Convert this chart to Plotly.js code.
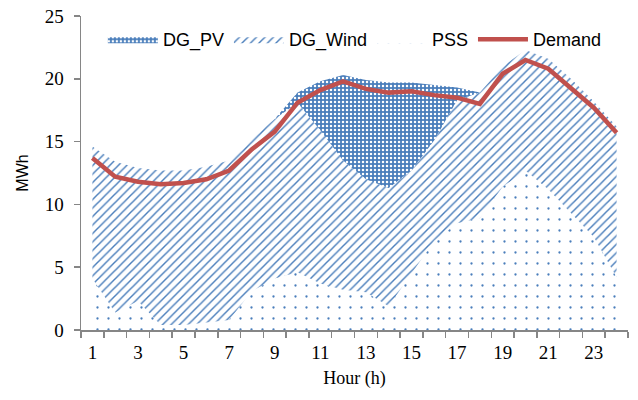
<!DOCTYPE html>
<html>
<head>
<meta charset="utf-8">
<script src="https://cdn.plot.ly/plotly-3.0.1.min.js"></script>
<style>html,body{margin:0;padding:0;background:#fff;}#chart{width:638px;height:400px;}</style>
</head>
<body>
<div id="chart"></div>
<script>
const hours = [1,2,3,4,5,6,7,8,9,10,11,12,13,14,15,16,17,18,19,20,21,22,23,24];
const pss = [4.1,1.4,2.3,0.4,0.4,0.6,0.8,3.1,4.1,4.6,3.7,3.2,3.0,1.9,4.5,7.1,8.5,8.9,11.4,12.7,11.2,9.3,7.4,4.2];
const dgWind = [10.5,12.0,10.6,12.3,12.3,12.4,12.7,12.2,12.7,13.5,12.2,10.3,9.0,9.4,8.2,8.0,9.8,10.0,9.6,9.6,10.4,10.7,10.8,12.0];
const dgPV = [0,0,0,0,0,0,0,0,0,0.8,3.9,6.8,7.9,8.4,7.0,4.4,1.0,0,0,0,0,0,0,0];
const demand = [13.7,12.2,11.8,11.6,11.7,12.0,12.7,14.4,15.8,18.1,19.1,19.8,19.2,18.9,19.0,18.7,18.5,18.0,20.4,21.5,20.8,19.3,17.7,15.7];
const xTickLabels = [1,3,5,7,9,11,13,15,17,19,21,23];

const blue = '#4a7ebb';
const traces = [
  {x: hours, y: pss, name: 'PSS', type: 'scatter', mode: 'lines', stackgroup: 'a', legendrank: 3,
   line: {width: 0, color: blue}, fillcolor: 'rgba(0,0,0,0)',
   fillpattern: {shape: '.', fgcolor: blue, bgcolor: 'rgba(255,255,255,0)', size: 11, solidity: 0.035}},
  {x: hours, y: dgWind, name: 'DG_Wind', type: 'scatter', mode: 'lines', stackgroup: 'a', legendrank: 2,
   line: {width: 0, color: blue}, fillcolor: 'rgba(0,0,0,0)',
   fillpattern: {shape: '/', fgcolor: blue, bgcolor: 'rgba(255,255,255,0)', size: 6, solidity: 0.24}},
  {x: hours, y: dgPV, name: 'DG_PV', type: 'scatter', mode: 'lines', stackgroup: 'a', legendrank: 1,
   line: {width: 0, color: blue}, fillcolor: 'rgba(0,0,0,0)',
   fillpattern: {shape: '.', fgcolor: '#ffffff', bgcolor: blue, size: 4, solidity: 0.3, fillmode: 'replace'}},
  {x: hours, y: demand, name: 'Demand', type: 'scatter', mode: 'lines', legendrank: 4,
   line: {width: 4.5, color: '#c0504d'}}
];

const layout = {
  width: 638, height: 400,
  margin: {l: 81, r: 10, t: 16, b: 70},
  paper_bgcolor: '#fff', plot_bgcolor: '#fff',
  showlegend: true,
  legend: {orientation: 'h', traceorder: 'normal', x: 0.04, xanchor: 'left', y: 0.925, yanchor: 'middle',
           font: {family: 'Liberation Sans, Arial, sans-serif', size: 18, color: '#000'},
           itemwidth: 50, bgcolor: 'rgba(0,0,0,0)'},
  xaxis: {range: [0.5, 24.5], tickmode: 'array', tickvals: xTickLabels, ticktext: xTickLabels.map(String),
          ticks: '', showline: true, linecolor: '#868686', linewidth: 1.5, showgrid: false, zeroline: false,
          minor: {tick0: 0.5, dtick: 1, ticks: 'outside', ticklen: 6, tickcolor: '#868686', tickwidth: 1.5, showgrid: false},
          tickfont: {family: 'Liberation Serif, Times New Roman, serif', size: 19, color: '#000'},
          ticklabelstandoff: 5,
          title: {text: 'Hour (h)', font: {family: 'Liberation Serif, Times New Roman, serif', size: 18, color: '#000'}, standoff: 9}},
  yaxis: {range: [0, 25], dtick: 5, tick0: 0, ticks: 'outside', ticklen: 6, tickcolor: '#868686', tickwidth: 1.5,
          showline: true, linecolor: '#868686', linewidth: 1.5, showgrid: false, zeroline: false,
          tickfont: {family: 'Liberation Serif, Times New Roman, serif', size: 19, color: '#000'},
          ticklabelstandoff: 6,
          title: {text: 'MWh', font: {family: 'Liberation Sans, Arial, sans-serif', size: 16, color: '#000'}, standoff: 12}}
};

Plotly.newPlot('chart', traces, layout, {staticPlot: true, displayModeBar: false});
</script>
</body>
</html>
